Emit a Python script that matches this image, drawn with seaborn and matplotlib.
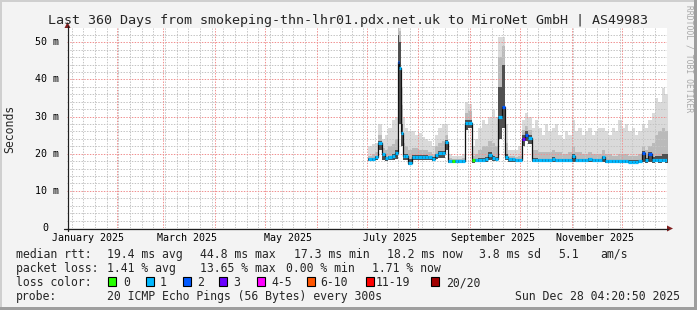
import numpy as np
import pandas as pd
import matplotlib
matplotlib.use("Agg")
import matplotlib.pyplot as plt
import matplotlib.dates as mdates
import matplotlib.transforms as mtrans
from matplotlib.patches import Rectangle, Polygon
from matplotlib.lines import Line2D
import seaborn as sns

# ---------------- data ----------------
# day offset from 2025-01-01
days = [183, 185, 187, 189, 191, 193, 195, 197, 199, 200, 201, 202, 203, 205, 207, 209,
        211, 213, 215, 217, 219, 221, 223, 225, 227, 229, 231, 233, 235, 237, 239, 241,
        243, 245, 247, 249, 251, 253, 255, 257, 259, 261, 263, 265, 267, 269, 271, 273,
        275, 277, 279, 281, 283, 285, 287, 289, 291, 293, 295, 297, 299, 301, 303, 305,
        307, 309, 311, 313, 315, 317, 319, 321, 323, 325, 327, 329, 331, 333, 335, 337,
        339, 341, 343, 345, 347, 349, 351, 353, 355, 357, 359, 361]
median_ms = [18.5, 18.5, 19.0, 23.0, 19.8, 18.8, 19.0, 19.3, 20.2, 44.8, 43.0, 25.6, 19.3, 19.3, 17.5, 19.2,
             19.2, 19.2, 19.2, 19.2, 19.0, 18.6, 19.6, 20.2, 20.2, 23.2, 18.1, 18.1, 18.0, 18.0, 18.1, 28.2,
             28.2, 18.2, 18.4, 18.4, 18.4, 18.5, 19.7, 18.8, 18.6, 30.0, 32.7, 19.2, 18.5, 18.5, 18.3, 18.3,
             24.0, 25.0, 24.2, 18.3, 18.3, 18.3, 18.3, 18.2, 18.3, 18.6, 18.3, 18.3, 18.2, 18.2, 18.2, 19.5,
             18.3, 18.2, 18.2, 18.2, 18.5, 18.2, 18.2, 18.2, 19.0, 18.0, 18.0, 18.0, 18.0, 18.0, 18.0, 18.0,
             17.9, 17.9, 17.9, 18.0, 20.2, 18.2, 19.8, 18.2, 18.3, 18.2, 18.3, 18.2]
min_ms = [18.0, 18.0, 18.2, 21.0, 18.3, 18.0, 18.2, 18.3, 18.5, 29.0, 28.0, 22.0, 18.3, 18.3, 17.0, 18.3,
          18.3, 18.3, 18.3, 18.3, 18.2, 18.0, 18.5, 18.8, 18.8, 21.0, 17.6, 17.6, 17.6, 17.6, 17.6, 26.5,
          27.0, 17.6, 17.8, 17.8, 17.8, 17.9, 18.2, 18.0, 18.0, 24.0, 27.0, 18.3, 17.9, 17.9, 17.8, 17.8,
          22.0, 23.5, 22.5, 17.8, 17.8, 17.8, 17.8, 17.7, 17.8, 17.8, 17.8, 17.8, 17.7, 17.7, 17.7, 17.8,
          17.8, 17.7, 17.7, 17.7, 17.7, 17.7, 17.7, 17.7, 17.8, 17.5, 17.5, 17.5, 17.5, 17.5, 17.5, 17.5,
          17.4, 17.4, 17.4, 17.5, 17.8, 17.6, 17.8, 17.6, 17.7, 17.6, 17.7, 17.6]
inner_ms = [18.8, 18.8, 19.3, 23.5, 20.2, 19.2, 19.4, 19.8, 21.0, 52.0, 50.0, 28.0, 20.0, 19.8, 18.5, 19.6,
            19.6, 19.6, 19.6, 19.6, 19.4, 19.0, 20.0, 20.8, 20.8, 23.8, 18.3, 18.3, 18.2, 18.2, 18.3, 29.0,
            29.0, 18.5, 18.7, 18.8, 18.9, 19.0, 20.5, 19.5, 19.2, 38.0, 44.0, 20.0, 18.8, 18.8, 18.6, 18.6,
            25.0, 26.0, 25.0, 18.8, 18.8, 18.7, 18.7, 18.6, 18.7, 19.0, 18.7, 18.7, 18.6, 18.6, 18.6, 20.0,
            18.7, 18.6, 18.6, 18.6, 18.9, 18.6, 18.6, 18.6, 19.4, 18.4, 18.4, 18.4, 18.4, 18.4, 18.4, 18.4,
            18.3, 18.3, 18.3, 18.4, 20.8, 18.8, 20.5, 19.0, 19.5, 19.5, 20.0, 20.0]
mid_ms = [19.5, 20.0, 20.5, 25.0, 21.5, 21.0, 22.0, 22.5, 24.0, 54.0, 53.0, 33.0, 23.0, 22.0, 21.0, 21.5,
          21.5, 21.0, 21.0, 21.0, 20.5, 20.0, 22.0, 23.0, 23.5, 25.0, 18.8, 18.7, 18.6, 18.6, 18.8, 31.0,
          31.5, 19.5, 20.0, 21.0, 22.0, 22.0, 23.5, 23.0, 22.0, 46.0, 49.0, 23.0, 19.5, 19.5, 19.0, 19.5,
          26.5, 27.5, 26.5, 21.0, 21.0, 20.5, 20.5, 20.5, 20.5, 21.0, 20.5, 20.5, 20.0, 20.0, 20.5, 22.0,
          20.5, 20.5, 20.0, 20.0, 20.5, 20.0, 20.0, 20.0, 21.0, 20.0, 20.0, 19.5, 19.5, 20.0, 20.0, 20.0,
          19.5, 19.5, 19.5, 20.0, 22.0, 21.0, 22.0, 23.0, 25.0, 26.0, 27.0, 26.0]
max_ms = [22.0, 22.5, 23.0, 28.0, 24.0, 25.0, 27.0, 29.0, 30.0, 54.5, 54.5, 38.0, 30.0, 27.0, 26.0, 26.0,
          25.0, 25.5, 24.5, 24.0, 23.5, 22.0, 25.0, 27.0, 28.0, 28.0, 19.8, 19.5, 19.3, 19.3, 20.0, 34.0,
          33.5, 22.0, 24.0, 27.0, 29.0, 28.0, 30.0, 31.8, 30.0, 51.5, 51.5, 28.0, 21.0, 21.0, 21.0, 22.0,
          29.0, 31.0, 30.0, 27.0, 29.0, 27.0, 25.0, 28.0, 26.0, 27.0, 28.0, 25.0, 24.0, 26.0, 25.0, 29.0,
          26.0, 27.0, 25.0, 26.0, 27.0, 25.0, 26.0, 27.0, 27.0, 26.0, 25.0, 27.0, 26.0, 29.0, 27.0, 28.0,
          26.0, 27.0, 25.0, 26.0, 28.0, 27.0, 29.0, 31.0, 35.0, 34.0, 37.7, 36.0]
loss_level = [1, 1, 1, 1, 1, 1, 1, 1, 1, 2, 1, 1, 1, 1, 1, 1,
              1, 1, 1, 1, 1, 1, 1, 1, 1, 1, 1, 0, 1, 1, 1, 1,
              1, 0, 1, 1, 1, 1, 1, 1, 1, 1, 2, 1, 1, 1, 1, 1,
              3, 2, 1, 1, 1, 1, 1, 1, 1, 1, 1, 1, 1, 1, 1, 1,
              1, 1, 1, 1, 1, 1, 1, 1, 1, 1, 1, 1, 1, 1, 1, 1,
              1, 1, 1, 1, 2, 1, 2, 1, 1, 1, 1, 1]

loss_labels = ["0", "1", "2", "3", "4-5", "6-10", "11-19", "20/20"]
loss_colors = ["#26ff00", "#00b8ff", "#0059ff", "#6a00ff", "#ff00ff", "#ff5500", "#ff0000", "#a10000"]

y_ticks = [0, 10, 20, 30, 40, 50]
y_tick_labels = ["0", "10 m", "20 m", "30 m", "40 m", "50 m"]
x_label_dates = ["2025-01-15", "2025-03-15", "2025-05-15", "2025-07-15", "2025-09-15", "2025-11-15"]
x_label_texts = ["January 2025", "March 2025", "May 2025", "July 2025", "September 2025", "November 2025"]

title = "Last 360 Days from smokeping-thn-lhr01.pdx.net.uk to MiroNet GmbH | AS49983"
rtt_stats = ["19.4 ms avg", "44.8 ms max", "17.3 ms min", "18.2 ms now", "3.8 ms sd", "5.1", "am/s"]
loss_stats = ["1.41 % avg", "13.65 % max", "0.00 % min", "1.71 % now"]
probe_text = "20 ICMP Echo Pings (56 Bytes) every 300s"
stamp_text = "Sun Dec 28 04:20:50 2025"

# ---------------- style ----------------
sns.set_style("white")
plt.rcParams["font.family"] = ["DejaVu Sans Mono", "DejaVu Sans"]

W, H = 697, 310
L, T, PW, PH = 67, 28, 600, 200
YMAX = 53.85

fig = plt.figure(figsize=(W / 100, H / 100), dpi=100, facecolor="#f3f3f3")
ax = fig.add_axes([L / W, 1 - (T + PH) / H, PW / W, PH / H])
ax.set_facecolor("white")
for s in ax.spines.values():
    s.set_visible(False)


def fx(x):
    return x / W


def fy(y):
    return 1 - y / H


t0 = mdates.date2num(pd.Timestamp("2025-01-02 04:20:50").to_pydatetime())
t1 = mdates.date2num(pd.Timestamp("2025-12-28 04:20:50").to_pydatetime())
ax.set_xlim(t0, t1)
ax.set_ylim(0, YMAX)
ax.set_xticks([])
ax.set_yticks([])

# sample times & step edges
dates = pd.Timestamp("2025-01-01") + pd.to_timedelta(days, unit="D")
xn = mdates.date2num(dates.to_pydatetime())
mids = (xn[:-1] + xn[1:]) / 2
left = np.concatenate([[xn[0] - (mids[0] - xn[0])], mids])
right = np.concatenate([mids, [xn[-1] + (xn[-1] - mids[-1])]])
xs = np.column_stack([left, right]).ravel()


def rep(v):
    return np.repeat(np.asarray(v, dtype=float), 2)


# smoke (light and medium layers)
ax.fill_between(xs, rep(min_ms), rep(max_ms), color="#dadada", lw=0, zorder=1)
ax.fill_between(xs, rep(min_ms), rep(mid_ms), color="#bababa", lw=0, zorder=1.1)

# grid
grid_dash = (0, (1.4, 1.4))
weeks = pd.date_range("2025-01-05", "2025-12-28", freq="7D")
months = pd.date_range("2025-02-01", "2025-12-01", freq="MS")
for w in weeks:
    if w.day != 1:
        ax.axvline(mdates.date2num(w.to_pydatetime()), color="#c4c4c4", lw=0.72, ls=grid_dash, zorder=1.5)
for v in np.arange(2, YMAX, 2):
    if v % 10 != 0:
        ax.axhline(v, color="#c4c4c4", lw=0.72, ls=grid_dash, zorder=1.5)
for m in months:
    ax.axvline(mdates.date2num(m.to_pydatetime()), color="#f09090", lw=0.72, ls=grid_dash, zorder=1.6)
for v in y_ticks[1:]:
    ax.axhline(v, color="#f09090", lw=0.72, ls=grid_dash, zorder=1.6)

# dark smoke core
ax.fill_between(xs, rep(min_ms), rep(inner_ms), color="#505050", lw=0, zorder=2)

# median line (black steps) + loss-coloured median marks
sns.lineplot(x=xs, y=rep(median_ms), estimator=None, sort=False, color="#111111",
             lw=0.9, ax=ax, zorder=3)
ax.hlines(median_ms, left, right, colors=[loss_colors[k] for k in loss_level],
          lw=2.3, zorder=4)

# axes lines & arrows (figure pixel coords)
axis_col = "#1f1f1f"
arrow_col = "#801f1f"
fig.add_artist(Line2D([fx(64), fx(668)], [fy(228.5), fy(228.5)], color=axis_col, lw=0.9))
fig.add_artist(Line2D([fx(67.5), fx(67.5)], [fy(231), fy(26)], color=axis_col, lw=0.9))
fig.add_artist(Polygon([[fx(673), fy(228.5)], [fx(667), fy(225.5)], [fx(667), fy(231.5)]],
                       closed=True, color=arrow_col, lw=0))
fig.add_artist(Polygon([[fx(67.5), fy(22)], [fx(64.5), fy(28)], [fx(70.5), fy(28)]],
                       closed=True, color=arrow_col, lw=0))

# y tick labels
ytr = mtrans.blended_transform_factory(fig.transFigure, ax.transData)
for v, lab in zip(y_ticks, y_tick_labels):
    xr = 58.5 if lab.endswith("m") else 48.5
    ax.text(fx(xr), v, lab, transform=ytr, ha="right", va="center", fontsize=7.2,
            color="black", clip_on=False)

# x labels
xtr = mtrans.blended_transform_factory(ax.transData, fig.transFigure)
for d, lab in zip(x_label_dates, x_label_texts):
    ax.text(mdates.date2num(pd.Timestamp(d).to_pydatetime()), fy(241), lab, transform=xtr,
            ha="center", va="baseline", fontsize=7.2, color="black", clip_on=False)

# title, y label, watermark
fig.text(fx(348), fy(24), title, ha="center", va="baseline", fontsize=9.6)
fig.text(fx(10), fy(128.5), "Seconds", rotation=90, ha="center", va="center", fontsize=8.3)
fig.text(fx(688.5), fy(5), "RRDTOOL / TOBI OETIKER", rotation=270, ha="center", va="top",
         fontsize=5.8, color="#a8a8a8")

# legend lines
LF = 8.3
b1, b2, b3, b4 = 257.7, 271.7, 286.0, 300.0
fig.text(fx(16), fy(b1), "median rtt:", fontsize=LF, va="baseline")
for x, s in zip([107.3, 200, 294, 386.7, 479.3, 558.3, 600], rtt_stats):
    fig.text(fx(x), fy(b1), s, fontsize=LF, va="baseline")
fig.text(fx(16), fy(b2), "packet loss:", fontsize=LF, va="baseline")
for x, s in zip([107.3, 200, 286, 372.3], loss_stats):
    fig.text(fx(x), fy(b2), s, fontsize=LF, va="baseline")
fig.text(fx(16), fy(b3), "loss color:", fontsize=LF, va="baseline")
box_x = [108.3, 145.7, 182.7, 219.3, 256.7, 307.0, 365.7, 430.7]
lab_x = [123.3, 160.0, 197.3, 233.3, 271.0, 320.0, 376.0, 446.0]
for bx, lx, lab, col in zip(box_x, lab_x, loss_labels, loss_colors):
    fig.add_artist(Rectangle((fx(bx), fy(286)), 8 / W, 9 / H, facecolor=col,
                             edgecolor="black", lw=0.8))
    fig.text(fx(lx), fy(b3), lab, fontsize=LF, va="baseline")
fig.text(fx(16), fy(b4), "probe:", fontsize=LF, va="baseline")
fig.text(fx(107.3), fy(b4), probe_text, fontsize=LF, va="baseline")
fig.text(fx(680), fy(b4), stamp_text, fontsize=LF, va="baseline", ha="right")

# frame
fig.add_artist(Rectangle((fx(0), fy(2)), 1, 2 / H, color="#cfcfcf", lw=0))
fig.add_artist(Rectangle((fx(0), 0), 2 / W, 1, color="#cfcfcf", lw=0))
fig.add_artist(Rectangle((fx(694), 0), 3 / W, 1, color="#9e9e9e", lw=0))
fig.add_artist(Rectangle((0, 0), 1, 3 / H, color="#9e9e9e", lw=0))

fig.savefig("out.png", dpi=100, facecolor=fig.get_facecolor())
